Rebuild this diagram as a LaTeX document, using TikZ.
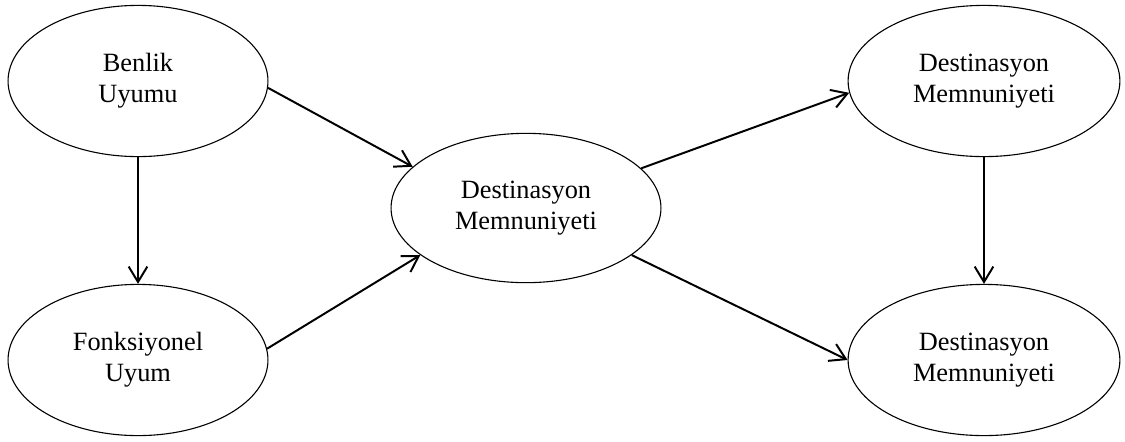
\documentclass[tikz,border=0pt]{standalone}
\usepackage{fontspec}
\setmainfont{Liberation Serif}
\usepackage{tikz}
\usetikzlibrary{shapes.geometric}
\usetikzlibrary{arrows.meta}

\begin{document}
\begin{tikzpicture}[
        x=0.016cm, y=-0.016cm,
        construct/.style={ellipse, draw=black, line width=0.5pt, inner sep=0pt, align=center, font=\fontsize{12}{14}\selectfont},
        side/.style={construct, minimum width=4.16cm, minimum height=2.42cm},
        mid/.style={construct, minimum width=4.32cm, minimum height=2.39cm},
        path/.style={-{Straight Barb[length=7pt, width=8.5pt, line width=0.9pt]}, line width=0.9pt}
      ]
        \useasboundingbox (0, 0) rectangle (1125, 441);

        \node[side]  (benlik)  at(138, 81)   {Benlik\\Uyumu};
        \node[side]  (fonk)    at(138, 360)  {Fonksiyonel\\Uyum};
        \node[mid]   (dest)    at(526, 208)  {Destinasyon\\Memnuniyeti};
        \node[side, minimum width=4.35cm]  (desttop)  at(984, 81)   {Destinasyon\\Memnuniyeti};
        \node[side, minimum width=4.35cm]  (destbot)  at(984, 360)  {Destinasyon\\Memnuniyeti};

        \draw[path]  (benlik.south) -- (fonk.north);
        \draw[path]  (benlik.-3)    -- (dest.160);
        \draw[path]  (fonk.5)       -- (dest.204);
        \draw[path]  (dest.19)      -- (desttop.185);
        \draw[path]  (dest.-24)     -- (destbot.180);
        \draw[path]  (desttop.south) -- (destbot.north);
      \end{tikzpicture}
\end{document}
